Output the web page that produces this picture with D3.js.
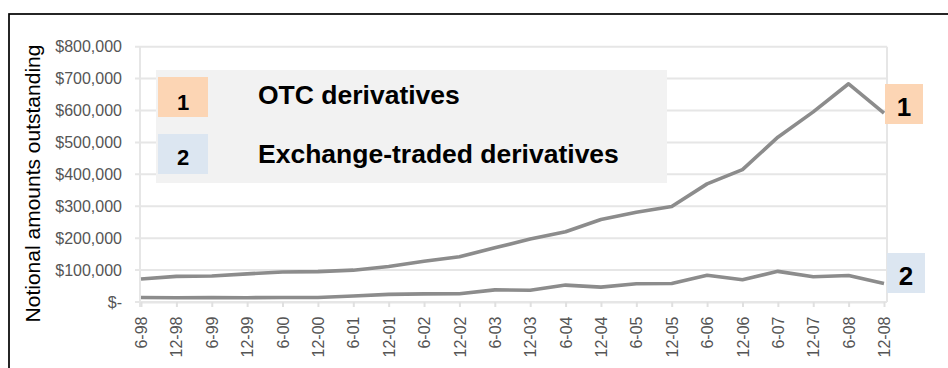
<!DOCTYPE html>
<html>
<head>
<meta charset="utf-8">
<script src="https://cdn.jsdelivr.net/npm/d3@7/dist/d3.min.js"></script>
<style>
  html, body { margin: 0; padding: 0; background: #fff; }
  svg { display: block; font-family: Arial, "Liberation Sans", Helvetica, sans-serif; }
</style>
</head>
<body>
<svg id="chart" width="948" height="368"></svg>
<script>
const categories = ["6-98","12-98","6-99","12-99","6-00","12-00","6-01","12-01","6-02","12-02","6-03","12-03","6-04","12-04","6-05","12-05","6-06","12-06","6-07","12-07","6-08","12-08"];
const otcValues = [72134, 80309, 81458, 88202, 94008, 95199, 99755, 111178, 127509, 141665, 169658, 197167, 220058, 258628, 281493, 299260, 370178, 414845, 516407, 595738, 683814, 591963];
const exchangeValues = [14000, 13500, 13600, 13500, 14000, 14300, 19000, 23800, 25500, 26000, 38000, 36700, 53000, 46600, 57000, 57800, 84000, 69500, 96000, 79100, 83000, 57900];
const yTicks = [0, 100000, 200000, 300000, 400000, 500000, 600000, 700000, 800000];
const legendLabels = ["OTC derivatives", "Exchange-traded derivatives"];
const badgeNumbers = ["1", "2"];
const badgeColors = ["#fcd5b4", "#dce6f1"];
const yTitle = "Notional amounts outstanding";

(function () {
const svg = d3.select("#chart");
svg.append("rect").attr("width", 948).attr("height", 368).attr("fill", "#fff");

// outer frame
svg.append("rect").attr("x", 9).attr("y", 14).attr("width", 1000).attr("height", 500)
  .attr("fill", "none").attr("stroke", "#000").attr("stroke-width", 1.7);

const pLeft = 140, pRight = 887, pTop = 46.7, pBottom = 302;
const x = d3.scalePoint().domain(categories).range([141, 884]);
const y = d3.scaleLinear().domain([0, 800000]).range([pBottom, pTop]);

// gridlines
svg.append("g").selectAll("line").data(yTicks).join("line")
  .attr("x1", pLeft - 5).attr("x2", pRight)
  .attr("y1", d => y(d)).attr("y2", d => y(d))
  .attr("stroke", "#e6e6e6").attr("stroke-width", 2);
// frame verticals
svg.append("line").attr("x1", pLeft).attr("x2", pLeft).attr("y1", pTop).attr("y2", pBottom + 5)
  .attr("stroke", "#e6e6e6").attr("stroke-width", 2);
svg.append("line").attr("x1", pRight).attr("x2", pRight).attr("y1", pTop).attr("y2", pBottom)
  .attr("stroke", "#e6e6e6").attr("stroke-width", 2);

// y axis
const fmt = d3.format(",");
const yAxis = svg.append("g").attr("transform", `translate(${pLeft},0)`)
  .call(d3.axisLeft(y).tickValues(yTicks).tickSize(0).tickPadding(18)
    .tickFormat(d => d === 0 ? "$-" : "$" + fmt(d)));
yAxis.select(".domain").remove();
yAxis.selectAll("text").attr("fill", "#555").style("font-size", "16px");

// x axis
const xAxis = svg.append("g").attr("transform", `translate(0,${pBottom})`)
  .call(d3.axisBottom(x).tickSize(5).tickSizeOuter(0));
xAxis.select(".domain").attr("stroke", "#e6e6e6").attr("stroke-width", 2);
xAxis.selectAll(".tick line").attr("stroke", "#e0e0e0").attr("stroke-width", 2);
xAxis.selectAll("text")
  .attr("transform", "rotate(-90)")
  .attr("x", -14.5).attr("y", 0).attr("dy", "0.35em")
  .style("text-anchor", "end")
  .attr("fill", "#555").style("font-size", "16px");

// y title
svg.append("text").attr("transform", "translate(40,183.5) rotate(-90)")
  .attr("text-anchor", "middle").style("font-size", "21px").attr("fill", "#000")
  .text(yTitle);

// lines
const line = d3.line().x((d, i) => x(categories[i])).y(d => y(d));
[otcValues, exchangeValues].forEach(vals => {
  svg.append("path").datum(vals).attr("d", line)
    .attr("fill", "none").attr("stroke", "#8c8c8c").attr("stroke-width", 3.6)
    .attr("stroke-linejoin", "round");
});

// legend
svg.append("rect").attr("x", 156).attr("y", 70).attr("width", 511).attr("height", 113).attr("fill", "#f2f2f2");
const legendRows = [{by: 77, nb: 109.5, tb: 103.5}, {by: 134, nb: 165, tb: 162.5}];
legendRows.forEach((r, i) => {
  svg.append("rect").attr("x", 158).attr("y", r.by).attr("width", 50).attr("height", 40).attr("fill", badgeColors[i]);
  svg.append("text").attr("x", 183).attr("y", r.nb).attr("text-anchor", "middle")
    .style("font-size", "22px").style("font-weight", "bold").attr("fill", "#000").text(badgeNumbers[i]);
  svg.append("text").attr("x", 258).attr("y", r.tb)
    .style("font-size", "26.5px").style("font-weight", "bold").attr("fill", "#000").text(legendLabels[i]);
});

// right-hand badges
const endBadges = [{x: 885, y: 84, b: 116}, {x: 887, y: 253, b: 285}];
endBadges.forEach((e, i) => {
  svg.append("rect").attr("x", e.x).attr("y", e.y).attr("width", 38).attr("height", 40).attr("fill", badgeColors[i]);
  svg.append("text").attr("x", e.x + 19).attr("y", e.b).attr("text-anchor", "middle")
    .style("font-size", "26px").style("font-weight", "bold").attr("fill", "#000").text(badgeNumbers[i]);
});
})();
</script>
</body>
</html>
